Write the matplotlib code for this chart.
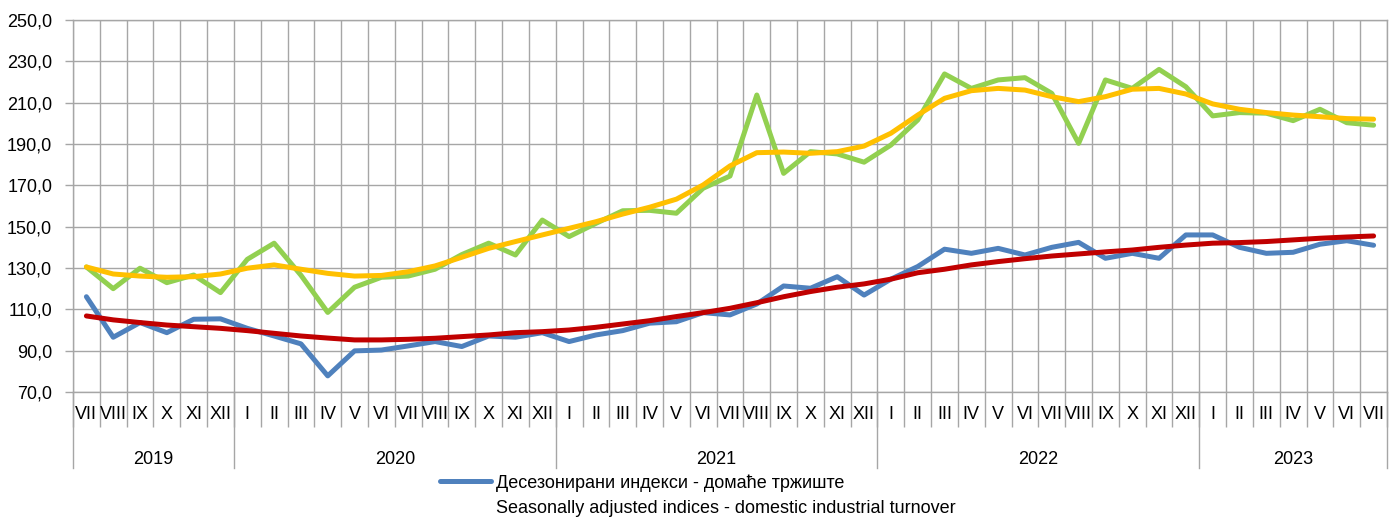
import matplotlib
matplotlib.use("Agg")
import matplotlib.pyplot as plt
from matplotlib.lines import Line2D
from matplotlib.ticker import FuncFormatter
import matplotlib.transforms as mtransforms

plt.rcParams['font.family'] = ['Liberation Sans', 'DejaVu Sans']

months = ["VII", "VIII", "IX", "X", "XI", "XII",
          "I", "II", "III", "IV", "V", "VI", "VII", "VIII", "IX", "X", "XI", "XII",
          "I", "II", "III", "IV", "V", "VI", "VII", "VIII", "IX", "X", "XI", "XII",
          "I", "II", "III", "IV", "V", "VI", "VII", "VIII", "IX", "X", "XI", "XII",
          "I", "II", "III", "IV", "V", "VI", "VII"]
years = ["2019", "2020", "2021", "2022", "2023"]
year_counts = [6, 12, 12, 12, 7]

blue_sa = [116.1, 96.5, 103.6, 98.7, 105.2, 105.4, 100.8, 97.1, 93.3, 77.8,
           89.9, 90.3, 92.3, 94.4, 92.0, 97.1, 96.5, 98.7, 94.4, 97.6,
           99.7, 103.3, 104.0, 108.4, 107.3, 112.6, 121.3, 120.2, 125.8, 116.9,
           124.6, 130.7, 139.1, 137.1, 139.5, 136.3, 140.0, 142.4, 134.7, 137.1,
           134.7, 146.0, 146.0, 140.0, 137.1, 137.6, 141.5, 143.2, 141.0]
red_trend = [106.8, 104.9, 103.6, 102.4, 101.6, 100.8, 99.7, 98.4, 97.1, 96.1,
             95.2, 95.2, 95.5, 96.0, 96.8, 97.6, 98.7, 99.2, 100.0, 101.3,
             102.9, 104.5, 106.5, 108.4, 110.5, 113.2, 116.1, 118.6, 120.7, 122.3,
             124.6, 127.7, 129.4, 131.5, 133.1, 134.5, 135.8, 136.8, 137.8, 138.7,
             140.0, 141.1, 142.0, 142.3, 142.8, 143.6, 144.4, 145.0, 145.5]
green_sa = [130.5, 120.0, 129.9, 122.9, 126.6, 118.1, 134.2, 142.0, 126.5, 108.5,
            120.7, 125.5, 126.1, 129.4, 136.5, 142.0, 136.3, 153.2, 145.2, 151.6,
            157.7, 157.9, 156.5, 168.6, 174.5, 213.7, 175.8, 186.3, 185.2, 181.2,
            189.5, 201.6, 223.9, 216.9, 221.0, 222.1, 214.5, 190.3, 221.0, 216.9,
            226.1, 217.7, 203.6, 205.2, 204.9, 201.3, 206.8, 200.3, 199.1]
yellow_trend = [130.5, 127.1, 126.1, 125.5, 125.8, 127.1, 129.9, 131.5, 129.4, 127.4,
                126.1, 126.4, 128.2, 131.0, 135.2, 139.5, 142.8, 146.0, 149.2, 152.4,
                156.1, 159.4, 163.3, 170.2, 179.4, 185.8, 186.1, 185.5, 186.3, 189.0,
                195.2, 204.0, 212.1, 215.8, 216.9, 216.1, 212.9, 210.5, 212.9, 216.5,
                216.9, 214.2, 209.4, 206.8, 205.2, 204.0, 203.2, 202.3, 202.0]

legend_lines = ["Десезонирани индекси - домаће тржиште",
                "Seasonally adjusted indices - domestic industrial turnover"]

W, H = 1397, 519
FS = 13
fig = plt.figure(figsize=(W / 100, H / 100), dpi=100)
ax = fig.add_axes([73 / W, 1 - 392 / H, (1387 - 73) / W, (392 - 20) / H])

n = len(months)
x = list(range(n))
grid_c = '#a6a6a6'

lb, = ax.plot(x, blue_sa, color='#4f81bd', lw=3.6, solid_capstyle='round', zorder=3)
ax.plot(x, green_sa, color='#92d050', lw=3.6, solid_capstyle='round', zorder=3)
ax.plot(x, red_trend, color='#c00000', lw=3.6, solid_capstyle='round', zorder=4)
ax.plot(x, yellow_trend, color='#ffc000', lw=3.6, solid_capstyle='round', zorder=4)

ax.set_xlim(-0.5, n - 0.5)
ax.set_ylim(70, 250)
ax.set_yticks(range(70, 251, 20))
ax.yaxis.set_major_formatter(FuncFormatter(lambda v, p: f"{v:.1f}".replace('.', ',')))
ax.tick_params(axis='y', length=6, width=1, color=grid_c, labelsize=FS, pad=9)

# month boundaries as major ticks (separators), month labels as minor ticks
ax.set_xticks([i - 0.5 for i in range(n + 1)])
ax.set_xticklabels([])
ax.set_xticks(x, minor=True)
ax.set_xticklabels(months, minor=True)
ax.tick_params(axis='x', which='major', length=25, width=1, color=grid_c)
ax.tick_params(axis='x', which='minor', length=0, labelsize=FS, pad=10)

ax.grid(True, axis='both', which='major', color=grid_c, lw=1)
ax.set_axisbelow(True)
for s in ax.spines.values():
    s.set_color(grid_c)
    s.set_linewidth(1)

# year separators and labels
trans = mtransforms.blended_transform_factory(ax.transData, ax.transAxes)
start = 0
ysep = -(468 - 392) / 372
for yr, cnt in zip(years, year_counts):
    ax.plot([start - 0.5, start - 0.5], [0, ysep], transform=trans, color=grid_c,
            lw=1, clip_on=False)
    ax.text(start - 0.5 + cnt / 2, -(460 - 392) / 372, yr, transform=trans,
            ha='center', va='center', fontsize=FS)
    start += cnt
ax.plot([start - 0.5, start - 0.5], [0, ysep], transform=trans, color=grid_c,
        lw=1, clip_on=False)

blank = Line2D([], [], color='none')
fig.legend([lb, blank], legend_lines, loc='upper left',
           bbox_to_anchor=(440 / W, 1 - 474 / H), frameon=False, fontsize=FS,
           handlelength=2.8, handletextpad=0.3, borderpad=0, borderaxespad=0,
           labelspacing=0.45)

fig.savefig("out.png", dpi=100)
